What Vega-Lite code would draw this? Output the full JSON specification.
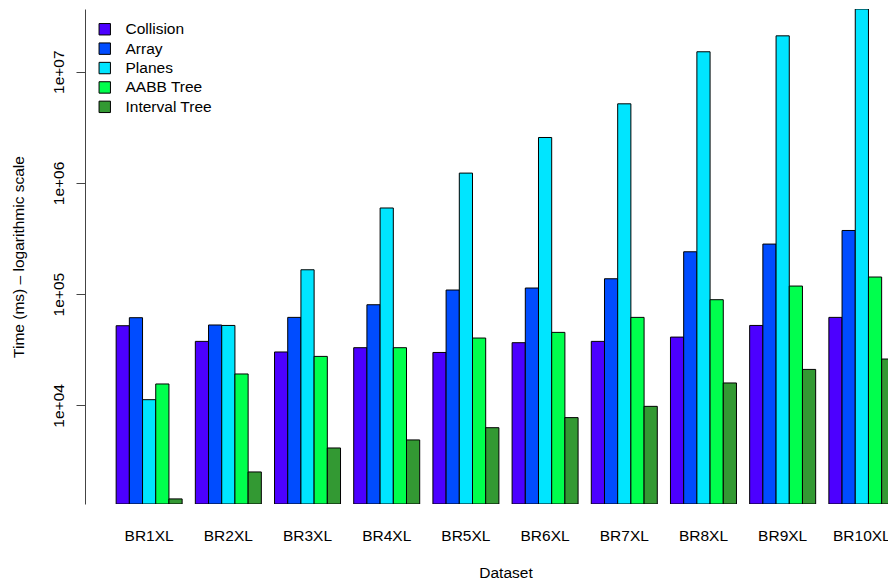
{
  "$schema": "https://vega.github.io/schema/vega-lite/v6.json",
  "width": 803,
  "height": 495,
  "autosize": {"type": "none"},
  "padding": {"left": 85, "top": 9, "right": 0, "bottom": 78},
  "background": "white",
  "data": {
    "values": [
      {"dataset": "BR1XL", "method": "Collision", "time": 52000},
      {"dataset": "BR1XL", "method": "Array", "time": 61400},
      {"dataset": "BR1XL", "method": "Planes", "time": 11250},
      {"dataset": "BR1XL", "method": "AABB Tree", "time": 15570},
      {"dataset": "BR1XL", "method": "Interval Tree", "time": 1442},
      {"dataset": "BR2XL", "method": "Collision", "time": 37600},
      {"dataset": "BR2XL", "method": "Array", "time": 52800},
      {"dataset": "BR2XL", "method": "Planes", "time": 52300},
      {"dataset": "BR2XL", "method": "AABB Tree", "time": 19150},
      {"dataset": "BR2XL", "method": "Interval Tree", "time": 2520},
      {"dataset": "BR3XL", "method": "Collision", "time": 30200},
      {"dataset": "BR3XL", "method": "Array", "time": 61800},
      {"dataset": "BR3XL", "method": "Planes", "time": 165600},
      {"dataset": "BR3XL", "method": "AABB Tree", "time": 27560},
      {"dataset": "BR3XL", "method": "Interval Tree", "time": 4140},
      {"dataset": "BR4XL", "method": "Collision", "time": 33000},
      {"dataset": "BR4XL", "method": "Array", "time": 80300},
      {"dataset": "BR4XL", "method": "Planes", "time": 595000},
      {"dataset": "BR4XL", "method": "AABB Tree", "time": 33000},
      {"dataset": "BR4XL", "method": "Interval Tree", "time": 4890},
      {"dataset": "BR5XL", "method": "Collision", "time": 29900},
      {"dataset": "BR5XL", "method": "Array", "time": 108900},
      {"dataset": "BR5XL", "method": "Planes", "time": 1225000},
      {"dataset": "BR5XL", "method": "AABB Tree", "time": 40300},
      {"dataset": "BR5XL", "method": "Interval Tree", "time": 6300},
      {"dataset": "BR6XL", "method": "Collision", "time": 36600},
      {"dataset": "BR6XL", "method": "Array", "time": 113500},
      {"dataset": "BR6XL", "method": "Planes", "time": 2560000},
      {"dataset": "BR6XL", "method": "AABB Tree", "time": 45300},
      {"dataset": "BR6XL", "method": "Interval Tree", "time": 7760},
      {"dataset": "BR7XL", "method": "Collision", "time": 37600},
      {"dataset": "BR7XL", "method": "Array", "time": 137500},
      {"dataset": "BR7XL", "method": "Planes", "time": 5140000},
      {"dataset": "BR7XL", "method": "AABB Tree", "time": 61800},
      {"dataset": "BR7XL", "method": "Interval Tree", "time": 9800},
      {"dataset": "BR8XL", "method": "Collision", "time": 41100},
      {"dataset": "BR8XL", "method": "Array", "time": 240400},
      {"dataset": "BR8XL", "method": "Planes", "time": 15100000},
      {"dataset": "BR8XL", "method": "AABB Tree", "time": 89100},
      {"dataset": "BR8XL", "method": "Interval Tree", "time": 15900},
      {"dataset": "BR9XL", "method": "Collision", "time": 52300},
      {"dataset": "BR9XL", "method": "Array", "time": 281900},
      {"dataset": "BR9XL", "method": "Planes", "time": 21000000},
      {"dataset": "BR9XL", "method": "AABB Tree", "time": 118200},
      {"dataset": "BR9XL", "method": "Interval Tree", "time": 21050},
      {"dataset": "BR10XL", "method": "Collision", "time": 61800},
      {"dataset": "BR10XL", "method": "Array", "time": 373500},
      {"dataset": "BR10XL", "method": "Planes", "time": 36600000},
      {"dataset": "BR10XL", "method": "AABB Tree", "time": 142500},
      {"dataset": "BR10XL", "method": "Interval Tree", "time": 26100}
    ]
  },
  "mark": {"type": "bar", "stroke": "#000000", "strokeWidth": 1, "clip": true, "opacity": 1},
  "encoding": {
    "x": {
      "field": "dataset",
      "type": "nominal",
      "sort": ["BR1XL", "BR2XL", "BR3XL", "BR4XL", "BR5XL", "BR6XL", "BR7XL", "BR8XL", "BR9XL", "BR10XL"],
      "scale": {"range": [0, 841], "paddingInner": 0.16667, "paddingOuter": 0.3933},
      "axis": {
        "title": "Dataset",
        "labelAngle": 0,
        "ticks": false,
        "tickSize": 0,
        "domain": false,
        "labelPadding": 36,
        "labelBaseline": "alphabetic",
        "labelFontSize": 15.5,
        "labelFont": "Liberation Sans",
        "labelColor": "#000000",
        "labelOverlap": false,
        "titleFont": "Liberation Sans",
        "titleFontSize": 15.5,
        "titleFontWeight": "normal",
        "titleColor": "#000000",
        "titleBaseline": "alphabetic",
        "titleX": 420.5,
        "titleY": 73
      }
    },
    "xOffset": {
      "field": "method",
      "type": "nominal",
      "sort": ["Collision", "Array", "Planes", "AABB Tree", "Interval Tree"],
      "scale": {"paddingInner": 0, "paddingOuter": 0}
    },
    "y": {
      "field": "time",
      "type": "quantitative",
      "scale": {"type": "log", "domain": [1298, 36600000], "nice": false},
      "axis": {
        "title": "Time (ms) – logarithmic scale",
        "values": [10000, 100000, 1000000, 10000000],
        "labelExpr": "'1e+0' + round(log(datum.value) / LN10)",
        "labelAngle": -90,
        "labelAlign": "center",
        "labelBaseline": "alphabetic",
        "labelPadding": 13,
        "tickSize": 9,
        "tickColor": "#444444",
        "domainColor": "#444444",
        "grid": false,
        "labelFontSize": 15.5,
        "labelFont": "Liberation Sans",
        "labelColor": "#000000",
        "titleFont": "Liberation Sans",
        "titleFontSize": 15.5,
        "titleFontWeight": "normal",
        "titleColor": "#000000",
        "titleAngle": -90,
        "titleAlign": "center",
        "titleBaseline": "alphabetic",
        "titleX": -62,
        "titleY": 247.5
      }
    },
    "y2": {"datum": 1298},
    "color": {
      "field": "method",
      "type": "nominal",
      "sort": ["Collision", "Array", "Planes", "AABB Tree", "Interval Tree"],
      "scale": {
        "domain": ["Collision", "Array", "Planes", "AABB Tree", "Interval Tree"],
        "range": ["#4C00FF", "#004CFF", "#00E5FF", "#00FF4D", "#339933"]
      },
      "legend": {
        "title": null,
        "orient": "none",
        "legendX": 12,
        "legendY": 12.5,
        "padding": 0,
        "symbolType": "square",
        "symbolSize": 130,
        "symbolStrokeColor": "#000000",
        "symbolStrokeWidth": 1,
        "symbolOpacity": 1,
        "labelFont": "Liberation Sans",
        "labelFontSize": 15.5,
        "labelColor": "#000000",
        "labelOffset": 13,
        "rowPadding": 2.4
      }
    }
  },
  "config": {"view": {"stroke": null}}
}
